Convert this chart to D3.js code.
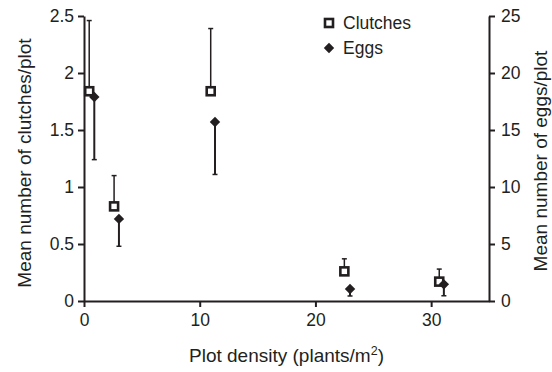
<!DOCTYPE html>
<html><head><meta charset="utf-8">
<script src="https://cdn.jsdelivr.net/npm/d3@7"></script>
<style>body{margin:0;background:#fff}svg{display:block}text{font-family:"Liberation Sans",Arial,sans-serif;fill:#231f20}</style>
</head><body><svg id="c" width="552" height="372"></svg>
<script>
const clutchX = [0.45, 2.6, 10.95, 22.5, 30.7];
const clutches = [1.84, 0.83, 1.84, 0.26, 0.17];
const clutchUpper = [2.46, 1.10, 2.39, 0.37, 0.28];
const eggX = [0.89, 3.02, 11.32, 22.99, 31.1];
const eggs = [17.9, 7.2, 15.7, 1.05, 1.46];
const eggLower = [12.4, 4.8, 11.1, 0.44, 0.46];
const xTicks = [0, 10, 20, 30];
const yLeftTicks = [0, 0.5, 1, 1.5, 2, 2.5];
const yRightTicks = [0, 5, 10, 15, 20, 25];

const ink = "#231f20";
const svg = d3.select("#c");
const x = d3.scaleLinear().domain([0, 35]).range([84, 489]);
const yL = d3.scaleLinear().domain([0, 2.5]).range([301, 16]);
const yR = d3.scaleLinear().domain([0, 25]).range([301, 16]);

function styleAxis(g){
  g.select(".domain").attr("stroke", ink).attr("stroke-width", 2);
  g.selectAll(".tick line").attr("stroke", ink).attr("stroke-width", 2);
  g.selectAll(".tick text").style("font-size", "17.5px").attr("fill", ink);
}
svg.append("g").attr("transform", "translate(0,301)")
  .call(d3.axisBottom(x).tickValues(xTicks).tickSize(6).tickSizeOuter(0).tickPadding(7))
  .call(styleAxis);
svg.append("g").attr("transform", "translate(84,0)")
  .call(d3.axisLeft(yL).tickValues(yLeftTicks).tickFormat(d3.format("")).tickSize(6).tickSizeOuter(0).tickPadding(4))
  .call(styleAxis);
svg.append("g").attr("transform", "translate(489,0)")
  .call(d3.axisRight(yR).tickValues(yRightTicks).tickSize(6).tickSizeOuter(0).tickPadding(6))
  .call(styleAxis);

// titles
svg.append("text").attr("transform", "translate(31,163) rotate(-90)").attr("text-anchor", "middle")
  .style("font-size", "19px").text("Mean number of clutches/plot");
svg.append("text").attr("transform", "translate(547,161) rotate(-90)").attr("text-anchor", "middle")
  .style("font-size", "19px").text("Mean number of eggs/plot");
const xt = svg.append("text").attr("x", 286.5).attr("y", 362).attr("text-anchor", "middle").style("font-size", "19px");
xt.append("tspan").text("Plot density (plants/m");
xt.append("tspan").attr("dy", -7).style("font-size", "12.5px").text("2");
xt.append("tspan").attr("dy", 7).text(")");

// clutches error bars (upper)
const cg = svg.append("g");
clutches.forEach((v, i) => {
  const cx = x(clutchX[i]);
  cg.append("line").attr("x1", cx).attr("x2", cx).attr("y1", yL(v)).attr("y2", yL(clutchUpper[i]))
    .attr("stroke", ink).attr("stroke-width", 1.5);
  cg.append("line").attr("x1", cx - 2.5).attr("x2", cx + 2.5).attr("y1", yL(clutchUpper[i])).attr("y2", yL(clutchUpper[i]))
    .attr("stroke", ink).attr("stroke-width", 1.5);
});
// eggs error bars (lower)
eggs.forEach((v, i) => {
  const cx = x(eggX[i]);
  cg.append("line").attr("x1", cx).attr("x2", cx).attr("y1", yR(v)).attr("y2", yR(eggLower[i]))
    .attr("stroke", ink).attr("stroke-width", 2);
  cg.append("line").attr("x1", cx - 2.5).attr("x2", cx + 2.5).attr("y1", yR(eggLower[i])).attr("y2", yR(eggLower[i]))
    .attr("stroke", ink).attr("stroke-width", 1.5);
});
// squares
svg.append("g").selectAll("rect").data(clutches).join("rect")
  .attr("x", (d, i) => x(clutchX[i]) - 4).attr("y", d => yL(d) - 4)
  .attr("width", 8).attr("height", 8).attr("fill", "#fff").attr("stroke", ink).attr("stroke-width", 2.6);
// diamonds
const dia = (cx, cy, r) => `M${cx},${cy - r}L${cx + r},${cy}L${cx},${cy + r}L${cx - r},${cy}Z`;
svg.append("g").selectAll("path").data(eggs).join("path")
  .attr("d", (d, i) => dia(x(eggX[i]), yR(d), 5.2)).attr("fill", ink);

// legend
svg.append("rect").attr("x", 325).attr("y", 19).attr("width", 8).attr("height", 8)
  .attr("fill", "#fff").attr("stroke", ink).attr("stroke-width", 2.6);
svg.append("text").attr("x", 343).attr("y", 29).style("font-size", "17.5px").text("Clutches");
svg.append("path").attr("d", dia(329, 48, 5.2)).attr("fill", ink);
svg.append("text").attr("x", 343).attr("y", 54).style("font-size", "17.5px").text("Eggs");
</script></body></html>
